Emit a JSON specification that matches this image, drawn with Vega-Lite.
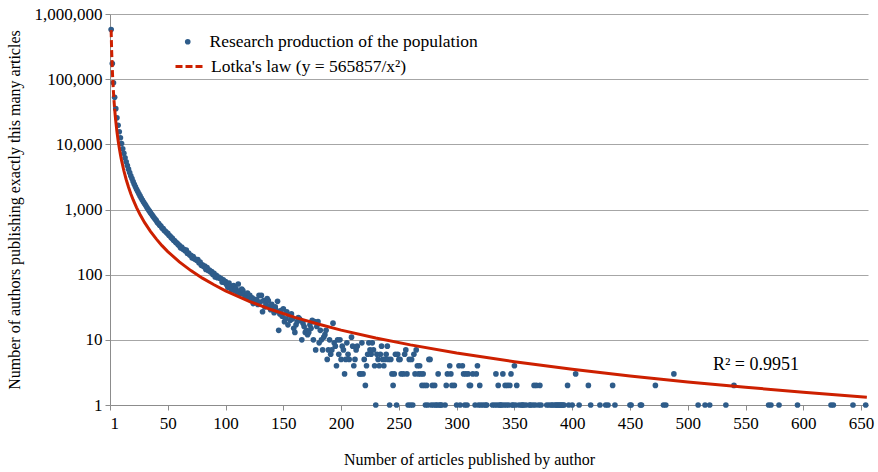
{
"$schema": "https://vega.github.io/schema/vega-lite/v6.json",
"width": 758, "height": 391,
"autosize": {"type": "none"},
"padding": {"left": 110, "top": 14, "right": 10, "bottom": 67},
"background": "white",
"config": {
  "view": {"stroke": null},
  "font": "Liberation Serif",
  "axis": {"labelFont": "Liberation Serif", "titleFont": "Liberation Serif", "labelColor": "black", "titleColor": "black", "titleFontWeight": "normal", "domainColor": "#8C8C8C", "tickColor": "#8C8C8C", "gridColor": "#A6A6A6", "labelFontSize": 17, "titleFontSize": 16},
  "legend": {"labelFont": "Liberation Serif", "labelFontSize": 17.5, "labelColor": "black", "labelLimit": 0, "padding": 0, "orient": "none"}
},
"datasets": {
"pts": [
{"x":1,"y":577000},{"x":2,"y":174000},{"x":3,"y":88000},{"x":4,"y":52700},{"x":5,"y":35300},{"x":6,"y":25500},{"x":7,"y":19600},{"x":8,"y":15600},{"x":9,"y":12600},{"x":10,"y":10300},
{"x":11,"y":8560},{"x":12,"y":7270},{"x":13,"y":6230},{"x":14,"y":5400},{"x":15,"y":4730},{"x":16,"y":4160},{"x":17,"y":3700},{"x":18,"y":3300},{"x":19,"y":2980},{"x":20,"y":2690},
{"x":21,"y":2440},{"x":22,"y":2230},{"x":23,"y":2040},{"x":24,"y":1890},{"x":25,"y":1740},{"x":26,"y":1615},{"x":27,"y":1500},{"x":28,"y":1400},{"x":29,"y":1305},{"x":30,"y":1225},
{"x":31,"y":1150},{"x":32,"y":1075},{"x":33,"y":1010},{"x":34,"y":950},{"x":35,"y":895},{"x":36,"y":843},{"x":37,"y":798},{"x":38,"y":752},{"x":39,"y":714},{"x":40,"y":680},
{"x":41,"y":630},{"x":42,"y":612},{"x":43,"y":575},{"x":44,"y":556},{"x":45,"y":520},{"x":46,"y":508},{"x":47,"y":476},{"x":48,"y":462},{"x":49,"y":438},{"x":50,"y":430},
{"x":51,"y":402},{"x":52,"y":392},{"x":53,"y":370},{"x":54,"y":360},{"x":55,"y":337},{"x":56,"y":330},{"x":57,"y":312},{"x":58,"y":305},{"x":59,"y":289},{"x":60,"y":281},
{"x":61,"y":258},{"x":62,"y":265},{"x":63,"y":248},{"x":64,"y":244},{"x":65,"y":232},{"x":66,"y":238},{"x":67,"y":212},{"x":68,"y":214},{"x":69,"y":200},{"x":70,"y":198},
{"x":71,"y":181},{"x":72,"y":190},{"x":73,"y":175},{"x":74,"y":172},{"x":75,"y":166},{"x":76,"y":170},{"x":77,"y":153},{"x":78,"y":156},{"x":79,"y":139},{"x":80,"y":142},
{"x":81,"y":133},{"x":82,"y":136},{"x":83,"y":120},{"x":84,"y":128},{"x":85,"y":116},{"x":86,"y":118},{"x":87,"y":110},{"x":88,"y":112},{"x":89,"y":101},{"x":90,"y":105},
{"x":91,"y":92},{"x":92,"y":98},{"x":93,"y":90},{"x":94,"y":92},{"x":95,"y":88},{"x":96,"y":87},{"x":97,"y":77},{"x":98,"y":83},{"x":99,"y":76},{"x":100,"y":78},
{"x":101,"y":70},{"x":102,"y":64},{"x":103,"y":74},{"x":104,"y":66},{"x":105,"y":58},{"x":106,"y":63},{"x":107,"y":68},{"x":108,"y":57},{"x":109,"y":61},{"x":110,"y":54},
{"x":111,"y":72},{"x":112,"y":56},{"x":113,"y":51},{"x":114,"y":60},{"x":115,"y":57},{"x":116,"y":50},{"x":117,"y":46},{"x":118,"y":45},{"x":119,"y":52},{"x":120,"y":43},
{"x":121,"y":48},{"x":122,"y":40},{"x":123,"y":44},{"x":124,"y":36},{"x":125,"y":42},{"x":126,"y":38},{"x":127,"y":41},{"x":128,"y":35},{"x":129,"y":48},{"x":130,"y":38},
{"x":131,"y":48},{"x":132,"y":27},{"x":133,"y":40},{"x":134,"y":32},{"x":135,"y":36},{"x":136,"y":43},{"x":137,"y":40},{"x":138,"y":33},{"x":139,"y":29},{"x":140,"y":35},
{"x":141,"y":30},{"x":142,"y":26},{"x":143,"y":32},{"x":144,"y":28},{"x":145,"y":39},{"x":146,"y":14},{"x":147,"y":25},{"x":148,"y":28},{"x":149,"y":23},{"x":150,"y":30},
{"x":151,"y":19},{"x":152,"y":21},{"x":153,"y":27},{"x":154,"y":17},{"x":155,"y":24},{"x":156,"y":20},{"x":157,"y":25},{"x":158,"y":21},{"x":159,"y":15},{"x":160,"y":13},
{"x":161,"y":17},{"x":162,"y":19},{"x":163,"y":22},{"x":164,"y":21},{"x":165,"y":20},{"x":166,"y":10},{"x":167,"y":18},{"x":168,"y":16},{"x":169,"y":13},{"x":170,"y":14},
{"x":171,"y":12},{"x":172,"y":13},{"x":173,"y":17},{"x":174,"y":15},{"x":175,"y":20},{"x":176,"y":10},{"x":177,"y":19},{"x":178,"y":7},{"x":179,"y":16},{"x":180,"y":19},
{"x":181,"y":9},{"x":182,"y":14},{"x":183,"y":10},{"x":184,"y":7},{"x":185,"y":11},{"x":186,"y":12},{"x":187,"y":14},{"x":188,"y":5},{"x":189,"y":7},{"x":190,"y":10},
{"x":191,"y":6},{"x":192,"y":7},{"x":193,"y":18},{"x":194,"y":9},{"x":195,"y":8},{"x":196,"y":4},{"x":197,"y":10},{"x":198,"y":6},{"x":199,"y":10},{"x":200,"y":5},
{"x":201,"y":8},{"x":202,"y":7},{"x":203,"y":3},{"x":204,"y":5},{"x":205,"y":9},{"x":206,"y":6},{"x":207,"y":5},{"x":209,"y":11},{"x":210,"y":8},
{"x":211,"y":4},{"x":212,"y":5},{"x":213,"y":7},{"x":214,"y":8},{"x":216,"y":3},{"x":217,"y":3},{"x":218,"y":9},{"x":219,"y":3},{"x":220,"y":5},
{"x":221,"y":2},{"x":222,"y":4},{"x":223,"y":6},{"x":224,"y":9},{"x":225,"y":7},{"x":226,"y":6},{"x":227,"y":9},{"x":228,"y":7},{"x":229,"y":4},{"x":230,"y":1},
{"x":231,"y":6},{"x":232,"y":5},{"x":233,"y":4},{"x":234,"y":6},{"x":235,"y":8},{"x":236,"y":5},{"x":237,"y":4},{"x":238,"y":5},{"x":239,"y":6},{"x":240,"y":8},
{"x":241,"y":5},{"x":242,"y":1},{"x":243,"y":5},{"x":244,"y":3},{"x":245,"y":2},{"x":246,"y":3},{"x":247,"y":6},{"x":248,"y":1},{"x":249,"y":6},{"x":250,"y":5},
{"x":251,"y":5},{"x":252,"y":3},{"x":254,"y":3},{"x":255,"y":6},{"x":256,"y":7},{"x":257,"y":3},{"x":258,"y":1},{"x":259,"y":5},{"x":260,"y":1},
{"x":261,"y":5},{"x":262,"y":1},{"x":263,"y":6},{"x":264,"y":3},{"x":265,"y":7},{"x":266,"y":4},{"x":267,"y":3},{"x":268,"y":4},{"x":269,"y":3},{"x":270,"y":2},
{"x":271,"y":3},{"x":272,"y":2},{"x":273,"y":1},{"x":274,"y":2},{"x":275,"y":1},{"x":276,"y":5},{"x":277,"y":5},{"x":278,"y":1},{"x":279,"y":2},{"x":280,"y":1},
{"x":281,"y":2},{"x":282,"y":1},{"x":283,"y":1},{"x":284,"y":3},{"x":285,"y":1},{"x":286,"y":1},{"x":287,"y":1},{"x":290,"y":1},
{"x":291,"y":2},{"x":292,"y":3},{"x":294,"y":4},{"x":295,"y":3},{"x":296,"y":2},{"x":298,"y":2},{"x":300,"y":1},
{"x":302,"y":4},{"x":303,"y":1},{"x":305,"y":4},{"x":306,"y":3},{"x":307,"y":1},{"x":308,"y":3},{"x":309,"y":1},{"x":310,"y":3},
{"x":311,"y":2},{"x":312,"y":2},{"x":314,"y":3},{"x":316,"y":1},{"x":317,"y":3},{"x":318,"y":4},{"x":319,"y":1},{"x":320,"y":2},
{"x":321,"y":1},{"x":323,"y":1},{"x":325,"y":1},{"x":326,"y":1},{"x":331,"y":1},{"x":333,"y":1},{"x":334,"y":3},{"x":335,"y":1},{"x":336,"y":2},{"x":337,"y":1},
{"x":338,"y":1},{"x":339,"y":1},{"x":340,"y":3},{"x":341,"y":1},{"x":342,"y":2},{"x":343,"y":1},{"x":344,"y":2},{"x":345,"y":1},{"x":346,"y":2},{"x":347,"y":3},
{"x":348,"y":1},{"x":349,"y":1},{"x":350,"y":4},{"x":351,"y":1},{"x":352,"y":2},{"x":354,"y":1},{"x":356,"y":1},{"x":357,"y":1},{"x":358,"y":1},{"x":360,"y":1},
{"x":363,"y":1},{"x":364,"y":1},{"x":366,"y":1},{"x":367,"y":2},{"x":368,"y":1},{"x":369,"y":2},{"x":371,"y":1},{"x":372,"y":2},{"x":373,"y":1},{"x":378,"y":1},
{"x":380,"y":1},{"x":382,"y":1},{"x":383,"y":1},{"x":385,"y":1},{"x":386,"y":1},{"x":387,"y":1},{"x":388,"y":1},{"x":389,"y":1},{"x":390,"y":1},{"x":391,"y":1},
{"x":392,"y":1},{"x":393,"y":1},{"x":396,"y":2},{"x":397,"y":1},{"x":400,"y":1},{"x":403,"y":3},{"x":406,"y":1},{"x":414,"y":2},{"x":416,"y":1},{"x":424,"y":1},
{"x":429,"y":1},{"x":431,"y":1},{"x":435,"y":2},{"x":437,"y":1},{"x":450,"y":1},{"x":451,"y":1},{"x":459,"y":1},{"x":460,"y":1},{"x":472,"y":2},{"x":479,"y":1},
{"x":481,"y":1},{"x":488,"y":3},{"x":509,"y":1},{"x":515,"y":1},{"x":519,"y":1},{"x":533,"y":1},{"x":540,"y":2},{"x":570,"y":1},{"x":572,"y":1},{"x":579,"y":1},
{"x":595,"y":1},{"x":624,"y":1},{"x":626,"y":1},{"x":643,"y":1},{"x":654,"y":1}
],
"lotka": [
{"x":1,"y":565857},{"x":1.1,"y":467650},{"x":1.2,"y":392956},{"x":1.3,"y":334827},{"x":1.4,"y":288703},{"x":1.5,"y":251492},{"x":1.7,"y":195798},{"x":2,"y":141464},{"x":2.3,"y":106967},{"x":2.6,"y":83707},
{"x":3,"y":62873},{"x":3.5,"y":46192},{"x":4,"y":35366},{"x":4.5,"y":27944},{"x":5,"y":22634},{"x":6,"y":15718},{"x":7,"y":11548},{"x":8,"y":8841},{"x":9,"y":6986},{"x":10,"y":5659},
{"x":12,"y":3930},{"x":14,"y":2887},{"x":16,"y":2210},{"x":18,"y":1746},{"x":20,"y":1415},{"x":23,"y":1070},{"x":26,"y":837},{"x":30,"y":629},{"x":35,"y":462},{"x":40,"y":354},
{"x":45,"y":279},{"x":50,"y":226},{"x":60,"y":157},{"x":70,"y":115.5},{"x":80,"y":88.4},{"x":90,"y":69.9},{"x":100,"y":56.6},{"x":120,"y":39.3},{"x":140,"y":28.9},{"x":160,"y":22.1},
{"x":180,"y":17.5},{"x":200,"y":14.1},{"x":230,"y":10.7},{"x":260,"y":8.37},{"x":300,"y":6.29},{"x":350,"y":4.62},{"x":400,"y":3.54},{"x":450,"y":2.79},{"x":500,"y":2.26},{"x":550,"y":1.87},
{"x":600,"y":1.57},{"x":655,"y":1.32}
],
"ann": [{"x": 559, "y": 4.05, "label": "R² = 0.9951"}]
},
"layer": [
{
  "data": {"name": "pts"},
  "mark": {"type": "point", "filled": true, "size": 32, "opacity": 1, "color": "#2E5C8A", "clip": false},
  "encoding": {
    "x": {"field": "x", "type": "quantitative",
      "scale": {"domain": [0, 656], "nice": false, "zero": false},
      "axis": {"title": "Number of articles published by author",
        "values": [0,25,50,75,100,125,150,175,200,225,250,275,300,325,350,375,400,425,450,475,500,525,550,575,600,625,650],
        "labelExpr": "datum.value == 0 ? '1' : (datum.value % 50 == 0 ? format(datum.value, 'd') : '')",
        "grid": false, "tickSize": 5, "labelPadding": 5, "labelOverlap": false, "labelFlush": true,
        "titleX": 359, "titleY": 54, "titleBaseline": "middle"}},
    "y": {"field": "y", "type": "quantitative",
      "scale": {"type": "log", "domain": [1, 1000000], "nice": false},
      "axis": {"title": "Number of authors publishing exactly this many articles",
        "values": [1,10,100,1000,10000,100000,1000000], "format": ",",
        "grid": true, "tickSize": 5, "labelPadding": 3, "labelFlush": false, "labelOverlap": false,
        "titleX": -96, "titleBaseline": "middle"}},
    "shape": {"datum": "Research production of the population", "type": "nominal",
      "scale": {"range": ["circle"]},
      "legend": {"title": null, "legendX": 69, "legendY": 19, "symbolSize": 32, "symbolType": "circle",
        "symbolFillColor": "#2E5C8A", "symbolStrokeWidth": 0, "labelOffset": 13}}
  }
},
{
  "data": {"name": "lotka"},
  "transform": [{"filter": "datum.x <= 4"}],
  "mark": {"type": "line", "strokeWidth": 3, "color": "#CD2000"},
  "encoding": {
    "x": {"field": "x", "type": "quantitative"},
    "y": {"field": "y", "type": "quantitative"},
    "strokeDash": {"datum": "Lotka's law (y = 565857/x²)", "type": "nominal",
      "scale": {"range": [[7, 3]]},
      "legend": {"title": null, "legendX": 64, "legendY": 36, "symbolType": "stroke", "symbolSize": 900,
        "symbolStrokeColor": "#CD2000", "symbolStrokeWidth": 3, "labelOffset": 4}}
  }
},
{
  "data": {"name": "lotka"},
  "transform": [{"filter": "datum.x >= 4"}],
  "mark": {"type": "line", "strokeWidth": 3, "color": "#CD2000"},
  "encoding": {
    "x": {"field": "x", "type": "quantitative"},
    "y": {"field": "y", "type": "quantitative"}
  }
},
{
  "data": {"name": "ann"},
  "mark": {"type": "text", "fontSize": 18, "font": "Liberation Serif", "color": "black", "align": "center", "baseline": "middle"},
  "encoding": {
    "x": {"field": "x", "type": "quantitative"},
    "y": {"field": "y", "type": "quantitative"},
    "text": {"field": "label"}
  }
}
]
}
